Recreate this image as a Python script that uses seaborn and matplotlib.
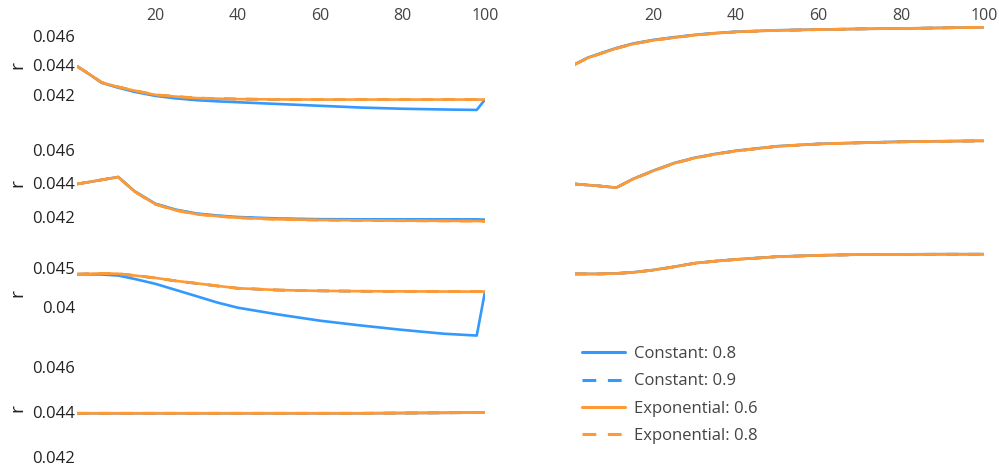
import numpy as np
import pandas as pd
import matplotlib.pyplot as plt
import seaborn as sns
from matplotlib.lines import Line2D

# iteration steps shared by every panel
steps = [1, 4, 7, 11, 15, 20, 25, 30, 35, 40, 50, 60, 70, 80, 90, 98, 100]

series_names = ["Constant: 0.8", "Constant: 0.9", "Exponential: 0.6", "Exponential: 0.8"]

# left column, row 1
c08_l1 = [0.04395, 0.04340, 0.04283, 0.04250, 0.04222, 0.04195, 0.04178, 0.04166, 0.04158, 0.04152, 0.04140, 0.04128, 0.04116, 0.04108, 0.04103, 0.04100, 0.04170]
c09_l1 = [0.04395, 0.04342, 0.04285, 0.04255, 0.04229, 0.04201, 0.04189, 0.04180, 0.04176, 0.04173, 0.04171, 0.04170, 0.04170, 0.04170, 0.04170, 0.04170, 0.04170]
e06_l1 = [0.04395, 0.04342, 0.04285, 0.04255, 0.04230, 0.04202, 0.04190, 0.04180, 0.04176, 0.04173, 0.04171, 0.04170, 0.04170, 0.04170, 0.04170, 0.04170, 0.04170]
e08_l1 = [0.04395, 0.04342, 0.04285, 0.04256, 0.04231, 0.04203, 0.04191, 0.04181, 0.04177, 0.04174, 0.04171, 0.04170, 0.04170, 0.04170, 0.04170, 0.04170, 0.04170]

# left column, row 2
c08_l2 = [0.04396, 0.04408, 0.04421, 0.04438, 0.04352, 0.04278, 0.04242, 0.04219, 0.04207, 0.04198, 0.04189, 0.04185, 0.04184, 0.04184, 0.04184, 0.04184, 0.04182]
c09_l2 = [0.04396, 0.04408, 0.04421, 0.04438, 0.04351, 0.04276, 0.04240, 0.04217, 0.04205, 0.04196, 0.04186, 0.04182, 0.04180, 0.04179, 0.04178, 0.04177, 0.04176]
e06_l2 = [0.04396, 0.04408, 0.04421, 0.04438, 0.04350, 0.04275, 0.04238, 0.04215, 0.04203, 0.04194, 0.04184, 0.04180, 0.04178, 0.04176, 0.04175, 0.04174, 0.04172]
e08_l2 = [0.04396, 0.04408, 0.04421, 0.04438, 0.04350, 0.04274, 0.04237, 0.04214, 0.04202, 0.04193, 0.04183, 0.04179, 0.04177, 0.04175, 0.04174, 0.04173, 0.04171]

# left column, row 3
c08_l3 = [0.04422, 0.04420, 0.04418, 0.04405, 0.04360, 0.04297, 0.04216, 0.04135, 0.04053, 0.03985, 0.03895, 0.03815, 0.03752, 0.03695, 0.03645, 0.03621, 0.04195]
c09_l3 = [0.04422, 0.04428, 0.04432, 0.04427, 0.04404, 0.04372, 0.04333, 0.04301, 0.04268, 0.04238, 0.04214, 0.04204, 0.04199, 0.04197, 0.04196, 0.04195, 0.04195]
e06_l3 = [0.04422, 0.04428, 0.04433, 0.04428, 0.04405, 0.04374, 0.04335, 0.04303, 0.04270, 0.04239, 0.04215, 0.04205, 0.04200, 0.04198, 0.04196, 0.04195, 0.04195]
e08_l3 = [0.04422, 0.04428, 0.04433, 0.04428, 0.04406, 0.04375, 0.04336, 0.04304, 0.04271, 0.04240, 0.04216, 0.04206, 0.04201, 0.04198, 0.04197, 0.04196, 0.04196]

# left column, row 4
c08_l4 = [0.04393, 0.04393, 0.04393, 0.04393, 0.04393, 0.04393, 0.04393, 0.04393, 0.04393, 0.04393, 0.04393, 0.04393, 0.04393, 0.04394, 0.04395, 0.04396, 0.04396]
c09_l4 = [0.04393, 0.04393, 0.04393, 0.04393, 0.04393, 0.04393, 0.04393, 0.04393, 0.04393, 0.04393, 0.04393, 0.04393, 0.04393, 0.04394, 0.04395, 0.04396, 0.04396]
e06_l4 = [0.04393, 0.04393, 0.04393, 0.04393, 0.04393, 0.04393, 0.04393, 0.04393, 0.04393, 0.04393, 0.04393, 0.04393, 0.04393, 0.04394, 0.04395, 0.04396, 0.04396]
e08_l4 = [0.04393, 0.04393, 0.04393, 0.04393, 0.04393, 0.04393, 0.04393, 0.04393, 0.04393, 0.04393, 0.04393, 0.04393, 0.04393, 0.04394, 0.04395, 0.04396, 0.04396]

# right column, row 1
c08_r1 = [0.04408, 0.04452, 0.04481, 0.04518, 0.04548, 0.04573, 0.04591, 0.04607, 0.04619, 0.04628, 0.04638, 0.04643, 0.04647, 0.04650, 0.04654, 0.04657, 0.04658]
c09_r1 = [0.04408, 0.04450, 0.04479, 0.04516, 0.04546, 0.04571, 0.04589, 0.04606, 0.04618, 0.04627, 0.04637, 0.04642, 0.04647, 0.04650, 0.04654, 0.04657, 0.04658]
e06_r1 = [0.04408, 0.04450, 0.04478, 0.04515, 0.04545, 0.04570, 0.04588, 0.04605, 0.04617, 0.04627, 0.04637, 0.04642, 0.04647, 0.04650, 0.04654, 0.04657, 0.04658]
e08_r1 = [0.04408, 0.04450, 0.04478, 0.04515, 0.04545, 0.04570, 0.04588, 0.04605, 0.04617, 0.04627, 0.04637, 0.04642, 0.04647, 0.04650, 0.04654, 0.04657, 0.04658]

# right column, row 2
c08_r2 = [0.04396, 0.04390, 0.04384, 0.04374, 0.04426, 0.04477, 0.04522, 0.04554, 0.04577, 0.04596, 0.04623, 0.04637, 0.04644, 0.04650, 0.04653, 0.04655, 0.04655]
c09_r2 = [0.04396, 0.04390, 0.04384, 0.04374, 0.04425, 0.04475, 0.04520, 0.04552, 0.04575, 0.04594, 0.04622, 0.04636, 0.04643, 0.04649, 0.04652, 0.04654, 0.04654]
e06_r2 = [0.04396, 0.04390, 0.04384, 0.04374, 0.04425, 0.04475, 0.04520, 0.04552, 0.04575, 0.04594, 0.04622, 0.04636, 0.04643, 0.04649, 0.04652, 0.04654, 0.04654]
e08_r2 = [0.04396, 0.04390, 0.04384, 0.04374, 0.04425, 0.04475, 0.04520, 0.04552, 0.04575, 0.04594, 0.04622, 0.04636, 0.04643, 0.04649, 0.04652, 0.04654, 0.04654]

# right column, row 3
c08_r3 = [0.04426, 0.04426, 0.04426, 0.04433, 0.04447, 0.04478, 0.04520, 0.04567, 0.04594, 0.04616, 0.04652, 0.04669, 0.04679, 0.04682, 0.04684, 0.04684, 0.04684]
c09_r3 = [0.04426, 0.04426, 0.04426, 0.04432, 0.04445, 0.04476, 0.04518, 0.04565, 0.04592, 0.04614, 0.04651, 0.04668, 0.04678, 0.04681, 0.04683, 0.04683, 0.04683]
e06_r3 = [0.04426, 0.04426, 0.04426, 0.04432, 0.04445, 0.04476, 0.04518, 0.04565, 0.04592, 0.04614, 0.04651, 0.04668, 0.04678, 0.04681, 0.04683, 0.04683, 0.04683]
e08_r3 = [0.04426, 0.04426, 0.04426, 0.04432, 0.04445, 0.04476, 0.04518, 0.04565, 0.04592, 0.04614, 0.04651, 0.04668, 0.04678, 0.04681, 0.04683, 0.04683, 0.04683]

# y ticks per row
row_ticks = [[0.042, 0.044, 0.046], [0.042, 0.044, 0.046], [0.04, 0.045], [0.042, 0.044, 0.046]]
row_ticklabels = [["0.042", "0.044", "0.046"], ["0.042", "0.044", "0.046"], ["0.04", "0.045"], ["0.042", "0.044", "0.046"]]
x_ticks = [20, 40, 60, 80, 100]
x_ticklabels = ["20", "40", "60", "80", "100"]

panels = {
    (0, 0): [c08_l1, c09_l1, e06_l1, e08_l1],
    (1, 0): [c08_l2, c09_l2, e06_l2, e08_l2],
    (2, 0): [c08_l3, c09_l3, e06_l3, e08_l3],
    (3, 0): [c08_l4, c09_l4, e06_l4, e08_l4],
    (0, 1): [c08_r1, c09_r1, e06_r1, e08_r1],
    (1, 1): [c08_r2, c09_r2, e06_r2, e08_r2],
    (2, 1): [c08_r3, c09_r3, e06_r3, e08_r3],
}

rows = []
for (r, c), lines in panels.items():
    for name, vals in zip(series_names, lines):
        for s, v in zip(steps, vals):
            rows.append({"row": r, "col": c, "series": name, "step": s, "r": v})
df = pd.DataFrame(rows)

blue = "#3399ff"
orange = "#ff9933"
palette = {series_names[0]: blue, series_names[1]: blue,
           series_names[2]: orange, series_names[3]: orange}
dashes = {series_names[0]: "", series_names[1]: (4.5, 3.8),
          series_names[2]: "", series_names[3]: (4.5, 3.8)}

sns.set_style("white")
plt.rcParams["font.family"] = ["Open Sans", "DejaVu Sans"]

W, H = 999, 471
fig = plt.figure(figsize=(W / 100, H / 100), dpi=100)

# pixel layout: (top_px, bottom_px, ylim) per row
row_layout = [
    (25.5, 112.9, (0.0408, 0.0467)),
    (135.0, 230.0, (0.0412, 0.0469)),
    (249.1, 341.0, (0.0355, 0.0475)),
    (362.2, 461.2, (0.0418, 0.0462)),
]
col_layout = [(77, 485), (575, 984)]
ylabel_px = [65, 183, 293, 408]

for (r, c) in panels:
    top, bot, ylim = row_layout[r]
    x0, x1 = col_layout[c]
    ax = fig.add_axes([x0 / W, 1 - bot / H, (x1 - x0) / W, (bot - top) / H])
    sub = df[(df["row"] == r) & (df["col"] == c)]
    sns.lineplot(data=sub, x="step", y="r", hue="series", style="series",
                 hue_order=series_names, style_order=series_names,
                 palette=palette, dashes=dashes, linewidth=1.9,
                 legend=False, ax=ax)
    ax.set_xlim(1, 100)
    ax.set_ylim(*ylim)
    sns.despine(ax=ax, left=True, bottom=True)
    ax.tick_params(length=0)
    if r == 0:
        ax.xaxis.tick_top()
        ax.set_xticks(x_ticks)
        ax.set_xticklabels(x_ticklabels, fontsize=11.5, color="#444444")
        ax.tick_params(axis="x", pad=1)
    else:
        ax.set_xticks([])
    ax.set_xlabel("")
    if c == 0:
        ax.set_yticks(row_ticks[r])
        ax.set_yticklabels(row_ticklabels[r], fontsize=12, color="#222222")
        ax.tick_params(axis="y", pad=1.5)
        ax.set_ylabel("r", fontsize=14, color="#222222")
        ax.yaxis.set_label_coords((26 - x0) / (x1 - x0), (bot - ylabel_px[r]) / (bot - top))
    else:
        ax.set_yticks([])
        ax.set_ylabel("")
    ax.grid(False)

handles = [Line2D([], [], color=palette[n], linewidth=2.2,
                  dashes=dashes[n] if dashes[n] else (None, None))
           for n in series_names]
leg = fig.legend(handles, series_names, loc="upper left",
                 bbox_to_anchor=(582 / W, 1 - 346 / H), frameon=False,
                 fontsize=12, handlelength=2.6, handletextpad=0.5,
                 labelspacing=0.68, borderaxespad=0, borderpad=0)
for t in leg.get_texts():
    t.set_color("#444444")

fig.savefig("out.png", dpi=100)
